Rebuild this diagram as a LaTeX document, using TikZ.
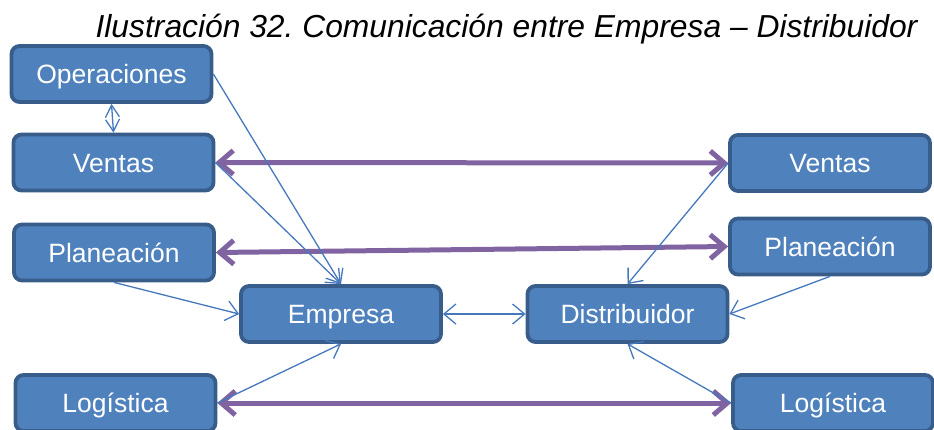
\documentclass[tikz,border=0pt]{standalone}
\usepackage{fontspec}
\setmainfont{Liberation Sans}
\usetikzlibrary{arrows.meta}
\definecolor{BoxClr}{rgb}{0.31,0.506,0.741}
\definecolor{EdgeClr}{rgb}{0.22,0.365,0.541}
\definecolor{FeedClr}{rgb}{0.27,0.47,0.74}
\definecolor{PairClr}{rgb}{0.502,0.392,0.635}
\frenchspacing

\begin{document}
\begin{tikzpicture}[x=1pt,y=-1pt,
  box/.style={draw=EdgeClr,fill=BoxClr,line width=3.8pt,rounded corners=8pt,
    minimum width=200pt,minimum height=56pt,inner sep=0pt,text=white,
    font=\fontsize{26.5}{30}\selectfont,text height=19pt,text depth=0pt},
  feed/.style={draw=FeedClr,line width=1.3pt,-{Straight Barb[length=12pt,width=20pt]}},
  pair/.style={draw=PairClr,line width=5pt,
    {Straight Barb[length=14pt,width=24pt]}-{Straight Barb[length=14pt,width=24pt]}}]
\useasboundingbox (0,0) rectangle (934,429);

\node[anchor=base east,font=\fontsize{31.8}{36}\selectfont\itshape] (title) at (921,37)
  {Ilustración 32. Comunicación entre Empresa – Distribuidor};

\node[box] (ope)  at (111.5,74)  {Operaciones};
\node[box] (venL) at (113.5,162.5) {Ventas};
\node[box] (plaL) at (114,252.5) {Planeación};
\node[box] (logL) at (115.5,403) {Logística};
\node[box] (emp)  at (341,314)   {Empresa};
\node[box] (dis)  at (627.5,314) {Distribuidor};
\node[box] (venR) at (830,163)   {Ventas};
\node[box] (plaR) at (830,246.5) {Planeación};
\node[box] (logR) at (833,403)   {Logística};

\draw[pair] (venL.east) -- (venR.west);
\draw[pair] (plaL.east) -- (plaR.west);
\draw[pair] (logL.east) -- (logR.west);

\draw[feed,{Straight Barb[length=12pt,width=14pt]}-{Straight Barb[length=12pt,width=14pt]}] (ope.south) -- (venL.north);
\draw[feed] (ope.east) -- (emp.north);
\draw[feed] (venL.east) -- (emp.north);
\draw[feed] (plaL.south) -- (emp.west);
\draw[feed] (logL.east) -- (emp.south);
\draw[feed,{Straight Barb[length=12pt,width=20pt]}-{Straight Barb[length=12pt,width=20pt]}] (emp.east) -- (dis.west);
\draw[feed] (venR.west) -- (dis.north);
\draw[feed] (plaR.south) -- (dis.east);
\draw[feed] (logR.west) -- (dis.south);

\end{tikzpicture}
\end{document}
